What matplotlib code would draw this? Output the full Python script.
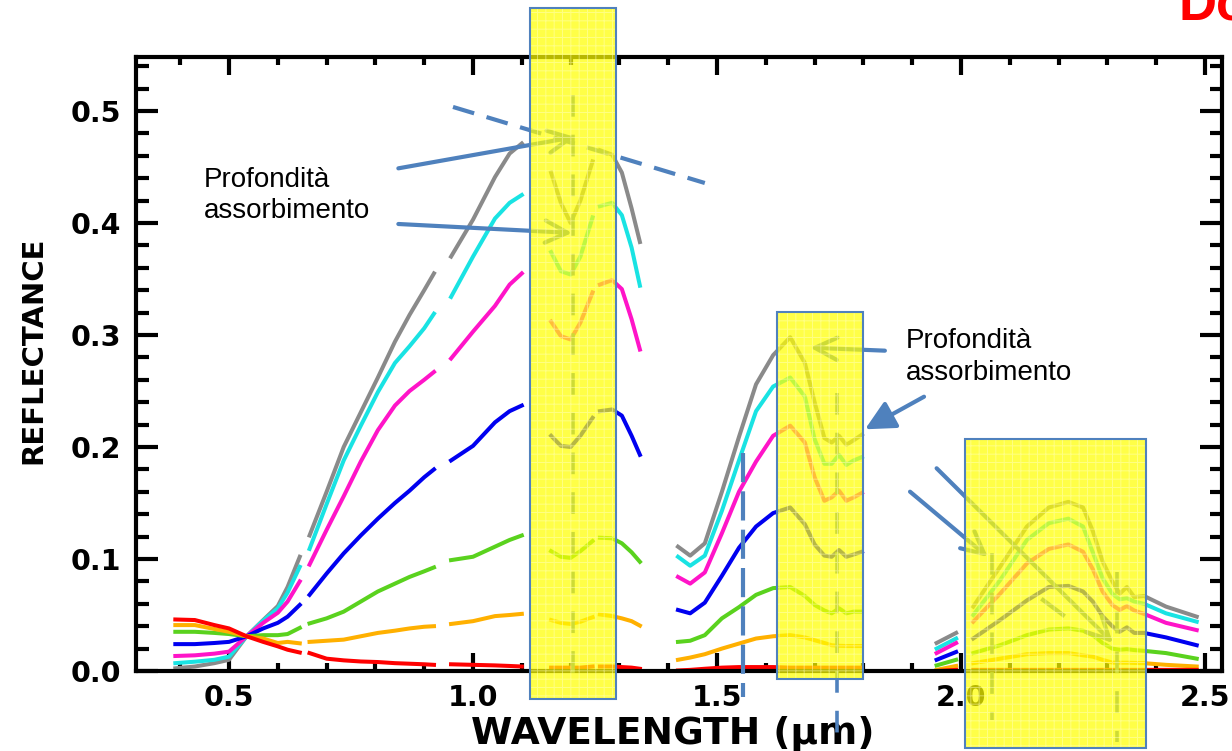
import numpy as np
import matplotlib
matplotlib.use('Agg')
import matplotlib.pyplot as plt
from matplotlib.patches import Rectangle
from matplotlib import font_manager

nan = float('nan')

# wavelength samples (um), nan = gap in the spectra
wl = [0.39, 0.43, 0.47, 0.50, 0.536, 0.57, 0.60, 0.62, 0.645, nan,
      0.665, 0.70, 0.735, 0.77, 0.805, 0.84, 0.87, 0.90, 0.92, nan,
      0.955, 1.00, 1.045, 1.075, 1.10, nan,
      1.16, 1.18, 1.20, 1.22, 1.245, nan,
      1.26, 1.285, 1.305, 1.325, 1.342, nan,
      1.42, 1.445, 1.475, 1.51, 1.545, 1.58, 1.615, 1.65, 1.68, 1.70, 1.72, 1.735, 1.75, 1.765, 1.78, 1.797, nan,
      1.95, 1.99, nan,
      2.025, 2.08, 2.135, 2.18, 2.22, 2.25, 2.27, 2.29, 2.31, 2.325, 2.34, 2.355, 2.375, 2.42, 2.483]

gray = [0.0024, 0.004, 0.007, 0.010, 0.031, 0.0455, 0.058, 0.075, 0.102, nan,
        0.121, 0.160, 0.200, 0.231, 0.262, 0.294, 0.318, 0.340, 0.355, nan,
        0.370, 0.403, 0.441, 0.462, 0.471, nan,
        0.445, 0.418, 0.400, 0.420, 0.455, nan,
        0.465, 0.461, 0.445, 0.413, 0.383, nan,
        0.111, 0.103, 0.114, 0.160, 0.209, 0.256, 0.282, 0.298, 0.275, 0.240, 0.208, 0.204, 0.210, 0.202, 0.206, 0.211, nan,
        0.025, 0.034, nan,
        0.0575, 0.093, 0.129, 0.146, 0.151, 0.146, 0.125, 0.098, 0.080, 0.069, 0.075, 0.066, 0.067, 0.0575, 0.0485]
cyan = [0.007, 0.0083, 0.010, 0.0128, 0.031, 0.045, 0.056, 0.070, 0.093, nan,
        0.109, 0.149, 0.188, 0.219, 0.249, 0.275, 0.290, 0.306, 0.319, nan,
        0.334, 0.370, 0.404, 0.418, 0.425, nan,
        0.374, 0.357, 0.354, 0.370, 0.405, nan,
        0.415, 0.418, 0.407, 0.378, 0.344, nan,
        0.102, 0.094, 0.103, 0.143, 0.188, 0.232, 0.254, 0.262, 0.245, 0.207, 0.185, 0.185, 0.193, 0.184, 0.188, 0.191, nan,
        0.020, 0.029, nan,
        0.050, 0.081, 0.117, 0.132, 0.136, 0.129, 0.106, 0.083, 0.069, 0.064, 0.065, 0.062, 0.060, 0.0515, 0.044]
magenta = [0.0134, 0.014, 0.0155, 0.0173, 0.031, 0.043, 0.052, 0.062, 0.080, nan,
           0.095, 0.126, 0.156, 0.187, 0.215, 0.237, 0.250, 0.260, 0.267, nan,
           0.279, 0.303, 0.326, 0.345, 0.355, nan,
           0.312, 0.299, 0.296, 0.311, 0.338, nan,
           0.345, 0.349, 0.341, 0.314, 0.287, nan,
           0.084, 0.078, 0.088, 0.123, 0.160, 0.187, 0.210, 0.219, 0.204, 0.173, 0.152, 0.155, 0.161, 0.152, 0.155, 0.159, nan,
           0.016, 0.025, nan,
           0.044, 0.069, 0.096, 0.109, 0.113, 0.1065, 0.091, 0.071, 0.059, 0.0545, 0.058, 0.054, 0.051, 0.043, 0.0365]
blue = [0.024, 0.024, 0.025, 0.026, 0.031, 0.038, 0.043, 0.0485, 0.059, nan,
        0.068, 0.087, 0.105, 0.121, 0.136, 0.150, 0.161, 0.173, 0.180, nan,
        0.188, 0.201, 0.222, 0.232, 0.237, nan,
        0.210, 0.201, 0.200, 0.210, 0.226, nan,
        0.232, 0.2335, 0.228, 0.210, 0.193, nan,
        0.0545, 0.0515, 0.061, 0.085, 0.110, 0.129, 0.141, 0.146, 0.131, 0.113, 0.103, 0.102, 0.108, 0.102, 0.104, 0.1065, nan,
        0.010, 0.017, nan,
        0.029, 0.0455, 0.063, 0.075, 0.076, 0.071, 0.062, 0.049, 0.040, 0.035, 0.039, 0.034, 0.034, 0.030, 0.023]
green = [0.035, 0.035, 0.034, 0.033, 0.031, 0.032, 0.032, 0.033, 0.0385, nan,
         0.0425, 0.047, 0.053, 0.062, 0.071, 0.078, 0.084, 0.089, 0.0925, nan,
         0.099, 0.102, 0.111, 0.117, 0.121, nan,
         0.107, 0.102, 0.101, 0.107, 0.116, nan,
         0.119, 0.1185, 0.114, 0.106, 0.0975, nan,
         0.026, 0.027, 0.032, 0.047, 0.057, 0.068, 0.074, 0.075, 0.067, 0.059, 0.054, 0.0515, 0.056, 0.0515, 0.053, 0.053, nan,
         0.005, 0.010, nan,
         0.016, 0.023, 0.032, 0.037, 0.038, 0.036, 0.032, 0.025, 0.020, 0.019, 0.0195, 0.0187, 0.018, 0.016, 0.011]
orange = [0.041, 0.041, 0.0375, 0.035, 0.031, 0.029, 0.025, 0.026, 0.0247, nan,
          0.026, 0.027, 0.028, 0.031, 0.034, 0.036, 0.038, 0.0395, 0.040, nan,
          0.042, 0.0445, 0.049, 0.050, 0.051, nan,
          0.0455, 0.043, 0.042, 0.044, 0.048, nan,
          0.0505, 0.049, 0.047, 0.0445, 0.0405, nan,
          0.010, 0.012, 0.015, 0.020, 0.0245, 0.029, 0.031, 0.032, 0.030, 0.0275, 0.025, 0.023, 0.0225, 0.0223, 0.0223, 0.0223, nan,
          0.001, 0.0045, nan,
          0.007, 0.011, 0.015, 0.016, 0.016, 0.014, 0.0128, 0.010, 0.0075, 0.0074, 0.0074, 0.0072, 0.007, 0.0055, 0.004]
red = [0.046, 0.0455, 0.041, 0.038, 0.031, 0.026, 0.022, 0.019, 0.0165, nan,
       0.016, 0.011, 0.0095, 0.0085, 0.008, 0.007, 0.0065, 0.006, 0.0055, nan,
       0.006, 0.0055, 0.005, 0.0045, 0.004, nan,
       0.003, 0.003, 0.003, 0.003, 0.004, nan,
       0.004, 0.004, 0.0035, 0.003, 0.002, nan,
       0.0005, 0.001, 0.002, 0.003, 0.0035, 0.0035, 0.0035, 0.003, 0.003, 0.003, 0.003, 0.003, 0.003, 0.003, 0.003, 0.003, nan,
       0.0, 0.001, nan,
       0.001, 0.001, 0.001, 0.001, 0.001, 0.001, 0.001, 0.001, 0.001, 0.001, 0.001, 0.001, 0.001, 0.001, 0.001]

curves = [gray, cyan, magenta, blue, green, orange, red]
colors = ['#8a8a8a', '#19e3e3', '#ff14c8', '#0000f0', '#5ad21e', '#ffb000', '#ff0000']

# absorption bands highlighted: (x0, x1, y0, y1)
bands = [(1.117, 1.293, -0.025, 0.592),
         (1.623, 1.799, -0.007, 0.3205),
         (2.008, 2.379, -0.069, 0.207)]

# band-centre dashed markers: (x, y_top, y_bottom)
centres = [(1.205, 0.514, -0.005), (1.746, 0.248, -0.069),
           (2.063, 0.105, -0.044), (2.32, 0.088, -0.063)]

# arrows (start, tip)
arrows = [((0.847, 0.4488), (1.209, 0.4768)),
          ((0.847, 0.3991), (1.203, 0.3911)),
          ((1.844, 0.2860), (1.691, 0.2887)),
          ((1.950, 0.1810), (2.3115, 0.0250)),
          ((1.8955, 0.1601), (2.055, 0.1018))]

blue_c = '#4f81bd'
W, H = 1232, 751
fig = plt.figure(figsize=(W / 100, H / 100), dpi=100)
ax = fig.add_axes([136 / W, 1 - 671 / H, 1086 / W, 614 / H])

for vals, col in zip(curves, colors):
    ax.plot(wl, vals, color=col, lw=2.9, zorder=2)

# continuum line over the 1.2 um feature
ax.plot([0.959, 1.475], [0.5036, 0.4357], color=blue_c, lw=3, dashes=(5.3, 3.1), zorder=3, clip_on=False)
# separate dashed marker near 1.55
ax.plot([1.553, 1.553], [0.1946, -0.023], color=blue_c, lw=3, dashes=(7, 2.2), zorder=3, clip_on=False)
for x, y0, y1 in centres:
    ax.plot([x, x], [y0, y1], color=blue_c, lw=2.6, dashes=(6, 5), zorder=3, clip_on=False)

for (x0, y0), (x1, y1) in arrows:
    ax.annotate('', xy=(x1, y1), xytext=(x0, y0), annotation_clip=False,
                arrowprops=dict(arrowstyle='->', lw=3, color=blue_c, shrinkA=0, shrinkB=0,
                                mutation_scale=40), zorder=3)
ax.annotate('', xy=(1.8033, 0.2158), xytext=(1.9242, 0.2449), annotation_clip=False,
            arrowprops=dict(arrowstyle='-|>,head_length=0.6,head_width=0.3', lw=3, color=blue_c,
                            shrinkA=0, shrinkB=0, mutation_scale=30), zorder=3)
ax.plot([2.168, 2.209], [0.0634, 0.050], color=blue_c, lw=3, zorder=3)

plt.rcParams['hatch.linewidth'] = 0.7
for x0, x1, y0, y1 in bands:
    ax.add_patch(Rectangle((x0, y0), x1 - x0, y1 - y0, facecolor=(1, 1, 0, 0.72),
                           edgecolor='none', clip_on=False, zorder=5))
    ax.add_patch(Rectangle((x0, y0), x1 - x0, y1 - y0, facecolor='none', hatch='++',
                           edgecolor=(1, 1, 0.75, 0.5), lw=0, clip_on=False, zorder=5.1))
    ax.add_patch(Rectangle((x0, y0), x1 - x0, y1 - y0, facecolor='none',
                           edgecolor=blue_c, lw=1.5, clip_on=False, zorder=5.2))

ax.set_xlim(0.3094, 2.5348)
ax.set_ylim(0, 0.5482)
ax.set_xticks([0.5, 1.0, 1.5, 2.0, 2.5])
ax.set_xticklabels(['0.5', '1.0', '1.5', '2.0', '2.5'])
ax.set_xticks(np.arange(0.4, 2.55, 0.1), minor=True)
ax.set_yticks([0.0, 0.1, 0.2, 0.3, 0.4, 0.5])
ax.set_yticklabels(['0.0', '0.1', '0.2', '0.3', '0.4', '0.5'])
ax.set_yticks(np.arange(0.0, 0.545, 0.02), minor=True)
ax.tick_params(axis='both', which='both', direction='in', top=True, right=True, width=3,
               labelsize=20.5)
ax.tick_params(axis='x', which='major', length=13, pad=9)
ax.tick_params(axis='x', which='minor', length=6)
ax.tick_params(axis='y', which='major', length=16, pad=11)
ax.tick_params(axis='y', which='minor', length=9)
for lab in ax.get_xticklabels() + ax.get_yticklabels():
    lab.set_fontweight('bold')
    lab.set_family('DejaVu Sans')
for s in ax.spines.values():
    s.set_linewidth(3)

names = {f.name for f in font_manager.fontManager.ttflist}
tf = fig.transFigure
if 'Liberation Sans Narrow' in names:
    ax.text(33 / W, 1 - 350 / H, 'REFLECTANCE', transform=tf, rotation=90, ha='center', va='center',
            family='Liberation Sans Narrow', fontsize=26.5, fontweight='bold', zorder=1)
else:
    ax.text(33 / W, 1 - 350 / H, 'REFLECTANCE', transform=tf, rotation=90, ha='center', va='center',
            family='DejaVu Sans', fontsize=21, fontweight='bold', zorder=1)
ax.text(673 / W, 1 - 744 / H, 'WAVELENGTH (μm)', transform=tf, ha='center', va='baseline',
        family='DejaVu Sans', fontsize=27, fontweight='bold', zorder=1)

note = dict(transform=tf, family='Liberation Sans', fontsize=20, va='baseline', zorder=1)
ax.text(204 / W, 1 - 187 / H, 'Profondità', **note)
ax.text(204 / W, 1 - 218.5 / H, 'assorbimento', **note)
ax.text(906 / W, 1 - 348 / H, 'Profondità', **note)
ax.text(906 / W, 1 - 380 / H, 'assorbimento', **note)

fig.text(1179 / W, 1 - 19 / H, 'Do', color='#ff0000', family='Liberation Sans',
         fontsize=38, fontweight='bold', va='baseline')

fig.savefig('out.png', dpi=100)
